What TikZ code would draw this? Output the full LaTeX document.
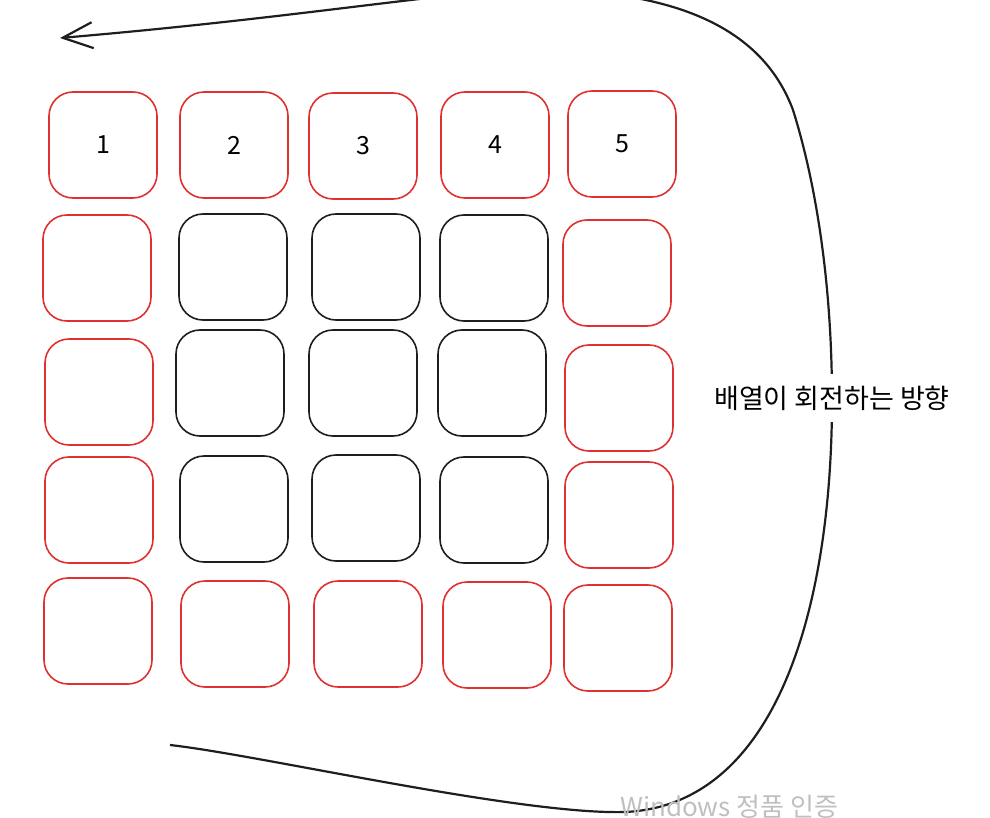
\documentclass[tikz,border=0pt]{standalone}
\usepackage{fontspec}
\setmainfont{Noto Sans CJK KR}
\usetikzlibrary{arrows.meta}
\definecolor{sketchred}{HTML}{E03131}
\definecolor{sketchink}{HTML}{1E1E1E}

\begin{document}
\begin{tikzpicture}[x=1pt,y=-1pt,
		cell/.style={draw=sketchink,line width=1.6pt,rounded corners=24pt,minimum width=108pt,minimum height=106pt,inner sep=0pt,font=\fontsize{25}{25}\selectfont},
		ring/.style={cell,draw=sketchred},
		turn/.style={draw=sketchink,line width=2.2pt}]
		\useasboundingbox (0,0) rectangle (990,818);
		\clip (0,0) rectangle (990,818);
		
		% outer ring and top row
		\node[ring] (c11) at (103,145) {1}; \node[ring] (c12) at (234,145) {2};
		\node[ring] (c13) at (363,146) {3}; \node[ring] (c14) at (495,145) {4};
		\node[ring] (c15) at (622,144) {5};
		
		\node[ring] (c21) at (97,268) {}; \node[cell] (c22) at (233,267) {};
		\node[cell] (c23) at (366,267) {}; \node[cell] (c24) at (494,268) {};
		\node[ring] (c25) at (617,273) {};
		
		\node[ring] (c31) at (99,392) {}; \node[cell] (c32) at (230,383) {};
		\node[cell] (c33) at (363,383) {}; \node[cell] (c34) at (492,383) {};
		\node[ring] (c35) at (619,398) {};
		
		\node[ring] (c41) at (99,510) {}; \node[cell] (c42) at (234,509) {};
		\node[cell] (c43) at (366,508) {}; \node[cell] (c44) at (494,510) {};
		\node[ring] (c45) at (619,515) {};
		
		\node[ring] (c51) at (98,631) {}; \node[ring] (c52) at (235,634) {};
		\node[ring] (c53) at (368,634) {}; \node[ring] (c54) at (497,635) {};
		\node[ring] (c55) at (618,638) {};
		
		% rotation arrow
		\coordinate (tail) at (170,745); \coordinate (head) at (60,38);
		\draw[turn,-{Straight Barb[length=30pt,width=26pt]}] (tail) .. controls (260,755) and (520,815) .. (625,812)
			.. controls (780,805) and (832,600) .. (832,400) .. controls (832,280) and (815,180) .. (793,110)
			.. controls (765,35) and (690,-5) .. (560,-10) .. controls (480,-15) and (330,15) .. (head);
		\node[fill=white,inner xsep=4pt,inner ysep=12pt,font=\fontsize{27}{27}\selectfont] (label) at (832,398) {배열이 회전하는 방향};
		
		\node[anchor=base west,inner sep=0pt,text=black!25,font=\fontsize{26}{26}\selectfont] (mark) at (620,816) {Windows 정품 인증};
		\end{tikzpicture}
\end{document}
